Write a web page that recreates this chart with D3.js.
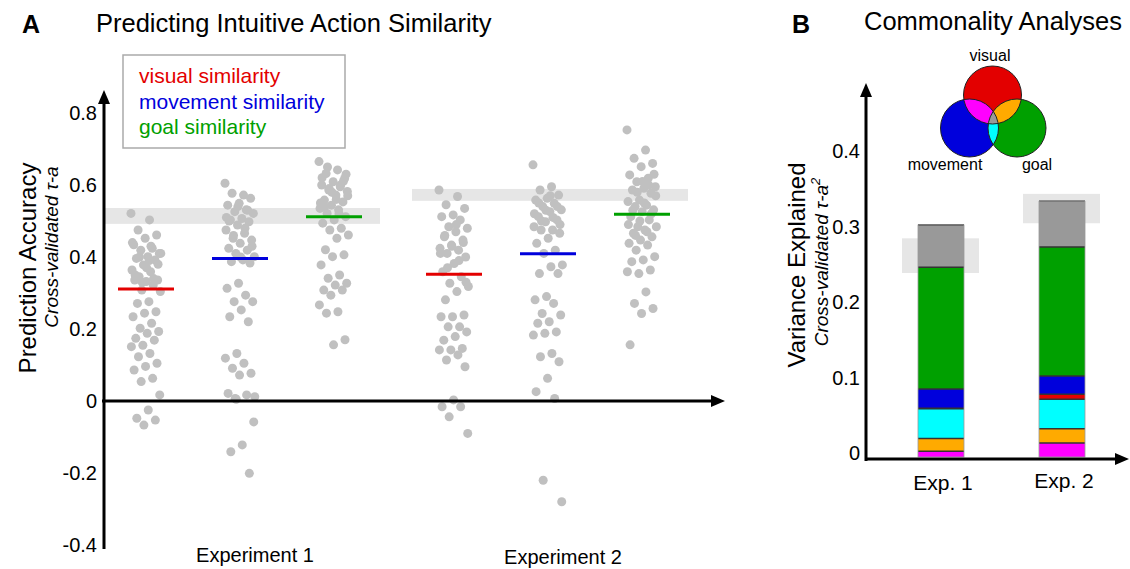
<!DOCTYPE html>
<meta charset="utf-8">
<style>
    html,
    body {
        margin: 0;
        padding: 0;
        background: #fff;
    }

    svg {
        font-family: "Liberation Sans", Arial, sans-serif;
    }
</style>
<svg id="chart" width="1130" height="569"></svg>
<script src="https://cdn.jsdelivr.net/npm/d3@7"></script>
<script>
    // ---- data ----
    const experiments = ["Experiment 1", "Experiment 2"];
    const models = ["visual", "movement", "goal"];
    const modelColours = ["#e30000", "#0000dc", "#00a000"];
    const legendLabels = ["visual similarity", "movement similarity", "goal similarity"];

    const exp1Visual = [0.521, 0.503, 0.475, 0.461, 0.452, 0.434, 0.424, 0.419, 0.410, 0.401, 0.396, 0.392, 0.378, 0.364, 0.359, 0.345, 0.336, 0.332, 0.336, 0.322, 0.308, 0.304, 0.276, 0.271, 0.248, 0.244, 0.234, 0.216, 0.202, 0.193, 0.188, 0.174, 0.169, 0.155, 0.151, 0.132, 0.123, 0.105, 0.096, 0.086, 0.063, 0.054, 0.017, -0.025, -0.048, -0.053, -0.067, 0.44, 0.43, 0.40, 0.38, 0.37, 0.35, 0.34, 0.33, 0.41, 0.39];
    const exp1Movement = [0.605, 0.572, 0.577, 0.563, 0.549, 0.544, 0.531, 0.526, 0.521, 0.507, 0.503, 0.498, 0.489, 0.475, 0.466, 0.452, 0.447, 0.438, 0.424, 0.419, 0.410, 0.401, 0.392, 0.387, 0.383, 0.327, 0.313, 0.294, 0.276, 0.276, 0.253, 0.234, 0.220, 0.132, 0.119, 0.105, 0.091, 0.077, 0.072, 0.021, 0.017, 0.007, -0.058, -0.122, -0.141, -0.201, 0.54, 0.51, 0.48, 0.46, 0.43, 0.40, 0.50, 0.53, 0.005, 0.012];
    const exp1Goal = [0.665, 0.642, 0.632, 0.618, 0.609, 0.600, 0.595, 0.586, 0.582, 0.572, 0.558, 0.553, 0.544, 0.535, 0.531, 0.521, 0.512, 0.503, 0.494, 0.480, 0.475, 0.461, 0.452, 0.420, 0.406, 0.401, 0.378, 0.350, 0.341, 0.327, 0.322, 0.308, 0.308, 0.294, 0.267, 0.248, 0.244, 0.170, 0.156, 0.62, 0.60, 0.59, 0.57, 0.56, 0.54, 0.61, 0.58, 0.55, 0.52, 0.65, 0.63];
    const exp2Visual = [0.586, 0.568, 0.545, 0.535, 0.517, 0.512, 0.503, 0.484, 0.480, 0.470, 0.456, 0.447, 0.433, 0.424, 0.419, 0.410, 0.400, 0.382, 0.359, 0.345, 0.327, 0.318, 0.304, 0.281, 0.239, 0.234, 0.234, 0.206, 0.206, 0.192, 0.179, 0.169, 0.146, 0.142, 0.142, 0.128, 0.114, 0.095, 0.003, -0.016, -0.016, -0.044, -0.090, 0.49, 0.46, 0.44, 0.43, 0.41, 0.39, 0.37, 0.33];
    const exp2Movement = [0.656, 0.595, 0.586, 0.572, 0.563, 0.558, 0.549, 0.540, 0.531, 0.526, 0.512, 0.503, 0.498, 0.484, 0.475, 0.475, 0.466, 0.452, 0.438, 0.419, 0.410, 0.378, 0.373, 0.354, 0.354, 0.290, 0.281, 0.271, 0.243, 0.239, 0.220, 0.216, 0.192, 0.188, 0.183, 0.132, 0.123, 0.109, 0.063, 0.026, 0.007, -0.220, -0.280, 0.57, 0.55, 0.54, 0.53, 0.52, 0.51, 0.50, 0.49];
    const exp2Goal = [0.753, 0.697, 0.674, 0.660, 0.651, 0.628, 0.619, 0.609, 0.595, 0.591, 0.586, 0.577, 0.558, 0.554, 0.544, 0.540, 0.531, 0.526, 0.512, 0.503, 0.484, 0.484, 0.475, 0.466, 0.456, 0.447, 0.438, 0.433, 0.419, 0.401, 0.392, 0.387, 0.364, 0.354, 0.359, 0.303, 0.271, 0.257, 0.243, 0.156, 0.60, 0.58, 0.57, 0.55, 0.53, 0.52, 0.50, 0.49, 0.47, 0.46, 0.63, 0.61];

    const exp1Medians = [0.311, 0.396, 0.512];
    const exp2Medians = [0.352, 0.409, 0.519];
    const noiseCeilingA = [[0.492, 0.536], [0.556, 0.589]];
    const yTicksA = [-0.4, -0.2, 0, 0.2, 0.4, 0.6, 0.8];

    // commonality analysis, stacked bottom -> top
    const barLabels = ["Exp. 1", "Exp. 2"];
    const segmentNames = ["visual+movement", "visual+goal", "movement+goal", "visual", "movement", "goal", "all three"];
    const segmentColours = ["#ff00ff", "#ffaa00", "#00ffff", "#e30000", "#0000dc", "#00a000", "#999999"];
    const exp1Segments = [0.0075, 0.0172, 0.0394, 0.0005, 0.0256, 0.1614, 0.0561];
    const exp2Segments = [0.0186, 0.0190, 0.0389, 0.0066, 0.0243, 0.1711, 0.0606];
    const noiseCeilingB = [[0.244, 0.290], [0.310, 0.349]];
    const yTicksB = [0, 0.1, 0.2, 0.3, 0.4];

    const vennLabels = ["visual", "movement", "goal"];
    const vennColours = ["#e30000", "#0000dc", "#00a000"];
    const vennOverlapColours = ["#ff00ff", "#ffaa00", "#00ffff", "#999999"];

    const dotsA = [[exp1Visual, exp1Movement, exp1Goal], [exp2Visual, exp2Movement, exp2Goal]];
    const mediansA = [exp1Medians, exp2Medians];
    const segmentsB = [exp1Segments, exp2Segments];

    var svg = d3.select("#chart");

    // ---------- helpers ----------
    function arrow(g, x1, y1, x2, y2) {
        // line with a filled head at (x2,y2)
        var ang = Math.atan2(y2 - y1, x2 - x1), L = 14, W = 6;
        var bx = x2 - L * Math.cos(ang), by = y2 - L * Math.sin(ang);
        g.append("line").attr("x1", x1).attr("y1", y1).attr("x2", bx).attr("y2", by)
            .attr("stroke", "#000").attr("stroke-width", 3);
        g.append("path")
            .attr("d", "M" + x2 + "," + y2 +
                "L" + (bx + W * Math.sin(ang)) + "," + (by - W * Math.cos(ang)) +
                "L" + (bx - W * Math.sin(ang)) + "," + (by + W * Math.cos(ang)) + "Z")
            .attr("fill", "#000");
    }

    function jitter(i) {
        return ((i * 0.6180339887) % 1 - 0.5) * 30;
    }

    // ================= Panel A =================
    var gA = svg.append("g");
    var yA = d3.scaleLinear().domain([-0.4, 0.8]).range([545, 113]);
    var xExp = d3.scalePoint().domain(experiments).range([240, 548]);
    var xModel = d3.scalePoint().domain(models).range([-94, 94]);

    gA.append("text").attr("x", 22).attr("y", 33).attr("font-size", 25).attr("font-weight", "bold").text("A");
    gA.append("text").attr("x", 96).attr("y", 32).attr("font-size", 25.5).text("Predicting Intuitive Action Similarity");

    // noise ceiling bands
    gA.selectAll("rect.nc").data(noiseCeilingA).enter().append("rect")
        .attr("class", "nc")
        .attr("x", (d, i) => xExp(experiments[i]) - 136)
        .attr("width", 276)
        .attr("y", d => yA(d[1]))
        .attr("height", d => yA(d[0]) - yA(d[1]))
        .attr("fill", "#e6e6e6");

    // dots
    experiments.forEach(function(e, ei) {
        models.forEach(function(m, mi) {
            var cx = xExp(e) + xModel(m);
            gA.append("g").selectAll("circle").data(dotsA[ei][mi]).enter().append("circle")
                .attr("cx", (d, i) => cx + jitter(i))
                .attr("cy", d => yA(d))
                .attr("r", 4.5)
                .attr("fill", "#c0c0c0");
            gA.append("line")
                .attr("x1", cx - 28).attr("x2", cx + 28)
                .attr("y1", yA(mediansA[ei][mi])).attr("y2", yA(mediansA[ei][mi]))
                .attr("stroke", modelColours[mi]).attr("stroke-width", 3);
        });
    });

    // axes
    var axA = gA.append("g").attr("transform", "translate(104,0)")
        .call(d3.axisLeft(yA).tickValues(yTicksA).tickSize(0).tickPadding(7)
            .tickFormat(d => d === 0 ? "0" : d.toFixed(1)));
    axA.select(".domain").remove();
    axA.selectAll("text").attr("font-size", 20).attr("font-family", "Liberation Sans, Arial, sans-serif").attr("fill", "#000");
    arrow(gA, 104, 549, 104, 90);
    arrow(gA, 102, yA(0), 725, yA(0));

    gA.selectAll("text.xl").data(experiments).enter().append("text")
        .attr("class", "xl")
        .attr("x", d => xExp(d) + 15)
        .attr("y", (d, i) => 562 + i * 2)
        .attr("text-anchor", "middle").attr("font-size", 20)
        .text(d => d);

    gA.append("text").attr("transform", "translate(36,268) rotate(-90)")
        .attr("text-anchor", "middle").attr("font-size", 24).text("Prediction Accuracy");
    gA.append("text").attr("transform", "translate(58,247) rotate(-90)")
        .attr("text-anchor", "middle").attr("font-size", 19).attr("font-style", "italic").text("Cross-validated τ-a");

    // legend
    gA.append("rect").attr("x", 123).attr("y", 55).attr("width", 222).attr("height", 93)
        .attr("fill", "#fff").attr("stroke", "#aaa").attr("stroke-width", 1.5);
    gA.selectAll("text.lg").data(legendLabels).enter().append("text")
        .attr("class", "lg")
        .attr("x", 139).attr("y", (d, i) => 83 + i * 25.5)
        .attr("font-size", 21).attr("fill", (d, i) => modelColours[i])
        .text(d => d);

    // ================= Panel B =================
    var gB = svg.append("g");
    var yB = d3.scaleLinear().domain([0, 0.4]).range([457, 155.4]);
    var xB = d3.scalePoint().domain(barLabels).range([941, 1062]);
    var barW = 46;

    gB.append("text").attr("x", 792).attr("y", 33).attr("font-size", 25).attr("font-weight", "bold").text("B");
    gB.append("text").attr("x", 864).attr("y", 30).attr("font-size", 25.5).text("Commonality Analyses");

    gB.selectAll("rect.nc").data(noiseCeilingB).enter().append("rect")
        .attr("class", "nc")
        .attr("x", (d, i) => xB(barLabels[i]) - 39)
        .attr("width", 77)
        .attr("y", d => yB(d[1]))
        .attr("height", d => yB(d[0]) - yB(d[1]))
        .attr("fill", "#e6e6e6");

    barLabels.forEach(function(lab, bi) {
        var vals = segmentsB[bi];
        var tops = Array.from(d3.cumsum(vals));
        var x0 = xB(lab) - barW / 2;
        var bar = gB.append("g");
        bar.selectAll("rect").data(vals).enter().append("rect")
            .attr("x", x0).attr("width", barW)
            .attr("y", (d, i) => yB(tops[i]))
            .attr("height", (d, i) => yB(tops[i] - d) - yB(tops[i]))
            .attr("fill", (d, i) => segmentColours[i]);
        bar.selectAll("line.sep").data(tops).enter().append("line")
            .attr("class", "sep")
            .attr("x1", x0).attr("x2", x0 + barW)
            .attr("y1", d => yB(d)).attr("y2", d => yB(d))
            .attr("stroke", "#333").attr("stroke-width", 1.5);
        bar.append("rect").attr("x", x0).attr("width", barW)
            .attr("y", yB(tops[tops.length - 1])).attr("height", yB(0) - yB(tops[tops.length - 1]))
            .attr("fill", "none").attr("stroke", "#999").attr("stroke-width", 0.8);
    });

    var axB = gB.append("g").attr("transform", "translate(866,-4)")
        .call(d3.axisLeft(yB).tickValues(yTicksB).tickSize(0).tickPadding(6)
            .tickFormat(d => d === 0 ? "0" : d.toFixed(1)));
    axB.select(".domain").remove();
    axB.selectAll("text").attr("font-size", 20).attr("font-family", "Liberation Sans, Arial, sans-serif").attr("fill", "#000");
    arrow(gB, 866, 461, 866, 83);
    arrow(gB, 865, 459, 1129, 459);

    gB.selectAll("text.xl").data(barLabels).enter().append("text")
        .attr("class", "xl")
        .attr("x", d => xB(d) + 2).attr("y", (d, i) => 490 - i * 2)
        .attr("text-anchor", "middle").attr("font-size", 21)
        .text(d => d);

    gB.append("text").attr("transform", "translate(805,265) rotate(-90)")
        .attr("text-anchor", "middle").attr("font-size", 24).text("Variance Explained");
    var it = gB.append("text").attr("transform", "translate(828,262) rotate(-90)")
        .attr("text-anchor", "middle").attr("font-size", 19).attr("font-style", "italic");
    it.append("tspan").text("Cross-validated τ-a");
    it.append("tspan").attr("font-size", 13).attr("dy", -8).text("2");

    // venn diagram
    var vr = 29;
    var vc = [[992.5, 95], [969.5, 128], [1017, 128]];
    var defs = svg.append("defs");
    vc.forEach(function(c, i) {
        defs.append("clipPath").attr("id", "vc" + i)
            .append("circle").attr("cx", c[0]).attr("cy", c[1]).attr("r", vr);
    });
    var gV = gB.append("g");
    gV.selectAll("circle.base").data(vc).enter().append("circle")
        .attr("cx", d => d[0]).attr("cy", d => d[1]).attr("r", vr)
        .attr("fill", (d, i) => vennColours[i]);
    var cr = gV.append("g").attr("clip-path", "url(#vc0)");
    cr.append("circle").attr("cx", vc[1][0]).attr("cy", vc[1][1]).attr("r", vr).attr("fill", vennOverlapColours[0]);
    cr.append("circle").attr("cx", vc[2][0]).attr("cy", vc[2][1]).attr("r", vr).attr("fill", vennOverlapColours[1]);
    gV.append("g").attr("clip-path", "url(#vc1)")
        .append("circle").attr("cx", vc[2][0]).attr("cy", vc[2][1]).attr("r", vr).attr("fill", vennOverlapColours[2]);
    gV.append("g").attr("clip-path", "url(#vc0)").append("g").attr("clip-path", "url(#vc1)")
        .append("circle").attr("cx", vc[2][0]).attr("cy", vc[2][1]).attr("r", vr).attr("fill", vennOverlapColours[3]);
    gV.selectAll("circle.edge").data(vc).enter().append("circle")
        .attr("class", "edge")
        .attr("cx", d => d[0]).attr("cy", d => d[1]).attr("r", vr)
        .attr("fill", "none").attr("stroke", "#222").attr("stroke-width", 1);
    var vennLabelPos = [[990, 61], [945, 170], [1037, 170]];
    gV.selectAll("text").data(vennLabels).enter().append("text")
        .attr("x", (d, i) => vennLabelPos[i][0]).attr("y", (d, i) => vennLabelPos[i][1])
        .attr("text-anchor", "middle").attr("font-size", 16)
        .text(d => d);
</script>
